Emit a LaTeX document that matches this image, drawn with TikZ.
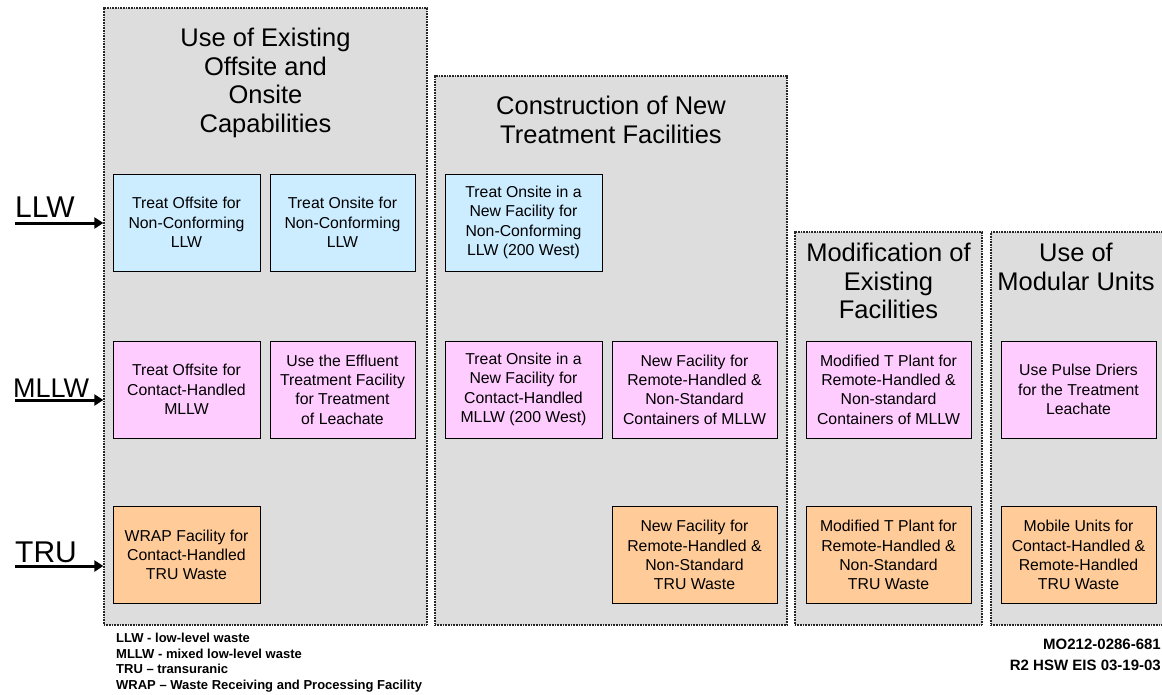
\documentclass[tikz,border=0pt]{standalone}
\usepackage{fontspec}
\setmainfont{Liberation Sans}
\usetikzlibrary{arrows.meta}
\definecolor{grpgrey}{HTML}{DDDDDD}
\definecolor{llwblue}{HTML}{CCECFF}
\definecolor{mllwpink}{HTML}{FFCCFF}
\definecolor{truorange}{HTML}{FFCC99}

\begin{document}
\begin{tikzpicture}[x=1pt,y=-1pt,
  grp/.style={draw=black!85,line width=1.3pt,dash pattern=on 1pt off 0.6pt,fill=grpgrey,inner sep=0pt},
  grptitle/.style={font=\fontsize{25.5}{28.5}\selectfont,align=center,anchor=north,inner sep=0pt},
  wbox/.style={draw=black,line width=0.8pt,inner sep=0pt,minimum height=97pt,align=center,font=\fontsize{15.8}{19.3}\selectfont},
  llw/.style={wbox,fill=llwblue},
  mllw/.style={wbox,fill=mllwpink},
  tru/.style={wbox,fill=truorange},
  wlabel/.style={font=\fontsize{30}{32}\selectfont,anchor=base west,inner sep=0pt},
  inarrow/.style={line width=3pt,-{Triangle[length=9pt,width=11pt]}},
  note/.style={font=\bfseries\fontsize{13}{15.5}\selectfont,align=left,inner sep=0pt},
  idtext/.style={font=\bfseries\fontsize{15}{17}\selectfont,inner sep=0pt,anchor=base east}]
		\clip (0,0) rectangle (1162,694);
		% group panels
		\node[grp,minimum width=323pt,minimum height=617pt] (g1) at (265.5,316.5) {};
		\node[grp,minimum width=352pt,minimum height=549pt] (g2) at (611,350.5) {};
		\node[grp,minimum width=187pt,minimum height=393pt] (g3) at (888.5,428.5) {};
		\node[grp,minimum width=184pt,minimum height=393pt] (g4) at (1083,428.5) {};
		\node[grptitle] (t1) at (265.5,28) {Use of Existing\\Offsite and\\Onsite\\Capabilities};
		\node[grptitle] (t2) at (611,96) {Construction of New\\Treatment Facilities};
		\node[grptitle] (t3) at (888.5,243) {Modification of\\Existing\\Facilities};
		\node[grptitle] (t4) at (1076,243) {Use of\\Modular Units};
		% LLW row
		\node[llw,minimum width=147pt] (offllw) at (186.5,222.5) {Treat Offsite for\\Non-Conforming\\LLW};
		\node[llw,minimum width=145pt] (onllw) at (342.5,222.5) {Treat Onsite for\\Non-Conforming\\LLW};
		\node[llw,minimum width=157pt] (newllw) at (523.5,222.5) {Treat Onsite in a\\New Facility for\\Non-Conforming\\LLW (200 West)};
		% MLLW row
		\node[mllw,minimum width=147pt] (offmllw) at (186.5,389.5) {Treat Offsite for\\Contact-Handled\\MLLW};
		\node[mllw,minimum width=145pt] (etf) at (342.5,389.5) {Use the Effluent\\Treatment Facility\\for Treatment\\of Leachate};
		\node[mllw,minimum width=157pt] (newchmllw) at (523.5,389.5) {Treat Onsite in a\\New Facility for\\Contact-Handled\\MLLW (200 West)};
		\node[mllw,minimum width=165pt] (newrhmllw) at (694.5,389.5) {New Facility for\\Remote-Handled \&\\Non-Standard\\Containers of MLLW};
		\node[mllw,minimum width=165pt] (tplantmllw) at (888.5,389.5) {Modified T Plant for\\Remote-Handled \&\\Non-standard\\Containers of MLLW};
		\node[mllw,minimum width=155pt] (driers) at (1078.5,389.5) {Use Pulse Driers\\for the Treatment\\Leachate};
		% TRU row
		\node[tru,minimum width=147pt] (wrap) at (186.5,555) {WRAP Facility for\\Contact-Handled\\TRU Waste};
		\node[tru,minimum width=165pt] (newtru) at (694.5,555) {New Facility for\\Remote-Handled \&\\Non-Standard\\TRU Waste};
		\node[tru,minimum width=165pt] (tplanttru) at (888.5,555) {Modified T Plant for\\Remote-Handled \&\\Non-Standard\\TRU Waste};
		\node[tru,minimum width=155pt] (mobile) at (1078.5,555) {Mobile Units for\\Contact-Handled \&\\Remote-Handled\\TRU Waste};
		% waste stream inputs
		\node[wlabel] (llwlab) at (15,217) {LLW};
		\node[wlabel,font=\fontsize{27}{30}\selectfont] (mllwlab) at (13,397) {MLLW};
		\node[wlabel] (trulab) at (15,562) {TRU};
		\coordinate (llwtail) at (15,223);
		\coordinate (mllwtail) at (15,400);
		\coordinate (trutail) at (15,566);
		\draw[inarrow] (llwtail) -- (llwtail -| g1.west);
		\draw[inarrow] (mllwtail) -- (mllwtail -| g1.west);
		\draw[inarrow] (trutail) -- (trutail -| g1.west);
		% notes
		\node[note,anchor=north west] (legend) at (116,633) {LLW - low-level waste\\MLLW - mixed low-level waste\\TRU – transuranic\\WRAP – Waste Receiving and Processing Facility};
		\node[idtext] (figid) at (1161,649) {MO212-0286-681};
		\node[idtext] (figdate) at (1161,670) {R2 HSW EIS 03-19-03};
	\end{tikzpicture}
\end{document}
